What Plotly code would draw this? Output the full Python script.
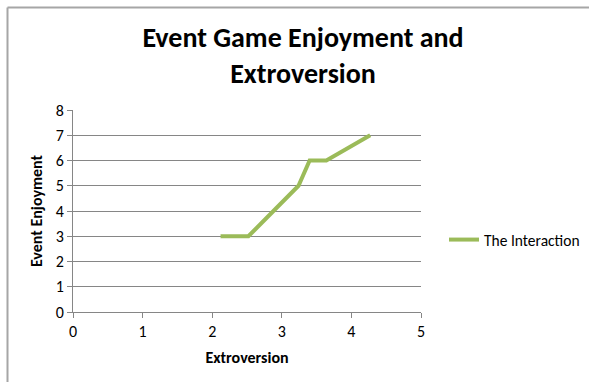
import plotly.graph_objects as go

extroversion = [2.12, 2.52, 2.88, 3.24, 3.40, 3.64, 4.27]
enjoyment = [3, 3, 4, 5, 6, 6, 7]
series_name = "The Interaction"
title_text = "Event Game Enjoyment and<br>Extroversion"
x_title = "Extroversion"
y_title = "Event Enjoyment"

W, H = 589, 382
L, R, T, B = 73, 168, 110, 70
pw, ph = W - L - R, H - T - B

fig = go.Figure()
fig.add_trace(go.Scatter(x=extroversion, y=enjoyment, mode="lines", name=series_name,
                         line=dict(color="#9BBB59", width=4)))

font_fam = "Carlito, Calibri, 'Liberation Sans', Arial, sans-serif"
grid = "#868686"

def px_x(p):
    return (p - L) / pw

def px_y(p):
    return (H - B - p) / ph

fig.update_layout(
    width=W, height=H,
    margin=dict(l=L, r=R, t=T, b=B, autoexpand=False),
    paper_bgcolor="white", plot_bgcolor="white",
    font=dict(family=font_fam, size=16, color="#000000"),
    title=dict(text="<b>" + title_text + "</b>", x=303 / W, xref="container", xanchor="center",
               y=1 - 47 / H, yref="container", yanchor="middle",
               font=dict(size=28, family=font_fam, color="#000000")),
    showlegend=True,
    legend=dict(x=px_x(444), y=px_y(240), xanchor="left", yanchor="middle",
                font=dict(size=15.5, family=font_fam, color="#000000"),
                bgcolor="rgba(0,0,0,0)", itemwidth=30),
    xaxis=dict(range=[0, 5], dtick=1, tick0=0, showgrid=False, zeroline=False,
               showline=True, linecolor=grid, linewidth=1,
               ticks="outside", ticklen=5, tickcolor=grid,
               tickfont=dict(size=16, color="#000000"),
               title=dict(text="<b>" + x_title + "</b>", font=dict(size=16), standoff=11)),
    yaxis=dict(range=[0, 8], dtick=1, tick0=0, showgrid=True, gridcolor=grid, gridwidth=1,
               zeroline=False, showline=True, linecolor=grid, linewidth=1,
               ticks="outside", ticklen=5, tickcolor=grid,
               tickfont=dict(size=16, color="#000000"),
               title=dict(text="<b>" + y_title + "</b>", font=dict(size=16), standoff=9)),
)

# outer chart frame (left and top edges visible)
fig.add_shape(type="line", xref="paper", yref="paper",
              x0=px_x(7.5), x1=px_x(7.5), y0=px_y(7.5), y1=px_y(H + 5),
              line=dict(color="#A6A6A6", width=2), layer="above")
fig.add_shape(type="line", xref="paper", yref="paper",
              x0=px_x(7.5), x1=px_x(W + 5), y0=px_y(7.5), y1=px_y(7.5),
              line=dict(color="#A6A6A6", width=2), layer="above")

fig.write_html("out.html")
